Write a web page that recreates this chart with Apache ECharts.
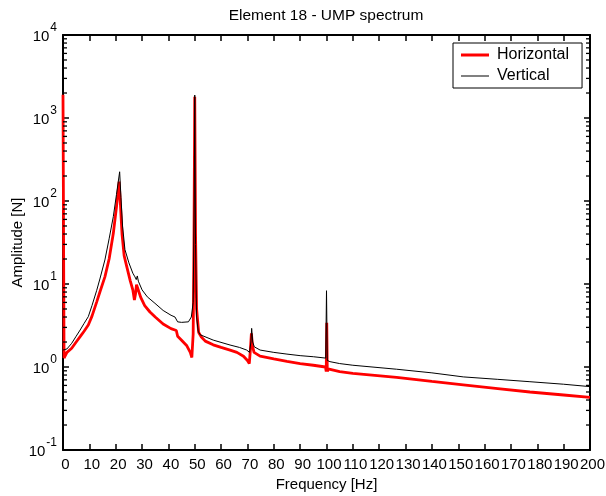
<!DOCTYPE html>
<html>
<head>
<meta charset="utf-8">
<script src="https://cdn.jsdelivr.net/npm/echarts@6/dist/echarts.min.js"></script>
<style>
  html, body { margin: 0; padding: 0; background: #fff; }
  #chart { width: 606px; height: 496px; }
</style>
</head>
<body>
<div id="chart"></div>
<script>
// Horizontal component (red)
var freqH = [0, 0.4, 1.5, 3.3, 5, 6.5, 8, 9.6, 11, 12.8, 14, 15.9, 17.5, 19.1, 20.3, 21.3, 21.8, 22.4, 23.2, 24.2, 25.5, 26.5, 27.1, 27.5, 27.9, 28.5, 29.5, 31, 33, 35, 38, 41, 43, 43.5, 45, 47, 48.3, 48.9, 49.4, 49.7, 50.0, 50.3, 50.7, 51.5, 52.5, 54, 57, 60, 63.4, 66, 68.5, 70, 70.7, 71.1, 71.5, 71.9, 72.5, 74.8, 80, 85, 90, 95, 99.6, 99.9, 100.1, 100.3, 100.6, 105, 110, 126.6, 140, 151.9, 165, 177.2, 190, 200];
var ampH = [1900, 1.28, 1.5, 1.68, 2.0, 2.32, 2.7, 3.2, 4.1, 6.1, 8.0, 12.2, 20, 40.8, 85, 171, 90, 40, 22, 16.2, 11, 8.5, 6.4, 7.5, 9.8, 8.6, 6.9, 5.5, 4.6, 4.0, 3.3, 2.9, 2.75, 2.35, 2.1, 1.8, 1.5, 1.3, 2.5, 30, 1800, 40, 5, 2.6, 2.3, 2.05, 1.85, 1.72, 1.6, 1.5, 1.35, 1.2, 1.1, 1.6, 2.55, 1.8, 1.5, 1.35, 1.25, 1.17, 1.1, 1.05, 1.0, 0.88, 3.4, 0.88, 0.95, 0.88, 0.84, 0.75, 0.67, 0.61, 0.55, 0.50, 0.46, 0.43];

// Vertical component (black)
var freqV = [0, 0.5, 1.5, 3.3, 5, 6.5, 8, 9.6, 11, 12.8, 14, 15.9, 17.5, 19.1, 20.3, 21.5, 22.0, 22.6, 23.5, 25, 26.5, 27.3, 27.8, 28.2, 28.6, 30, 32, 34.9, 38, 41, 42.5, 43.5, 45, 47.6, 48.7, 49.4, 49.8, 50.0, 50.3, 50.7, 51.3, 52, 57, 63.4, 67, 69.7, 70.8, 71.3, 71.6, 72, 72.6, 74.8, 80, 85, 90, 95, 99.7, 100.0, 100.3, 101.3, 105, 110, 126.6, 140, 151.9, 165, 177.2, 190, 200];
var ampV = [1.6, 1.55, 1.65, 1.93, 2.35, 2.79, 3.35, 4.04, 5.5, 8.4, 11.5, 19.5, 35, 65, 120, 225, 110, 50, 26, 18, 13.5, 12.2, 11.3, 12.5, 10.8, 8.5, 7, 5.85, 4.8, 4.2, 4.0, 3.5, 3.45, 3.5, 4.0, 6, 100, 1890, 30, 4, 2.7, 2.45, 2.11, 1.84, 1.72, 1.6, 1.5, 2.0, 2.92, 2.0, 1.75, 1.6, 1.5, 1.43, 1.37, 1.33, 1.28, 8.3, 1.2, 1.16, 1.1, 1.05, 0.94, 0.85, 0.76, 0.71, 0.665, 0.62, 0.58];

var xTicks = [0, 10, 20, 30, 40, 50, 60, 70, 80, 90, 100, 110, 120, 130, 140, 150, 160, 170, 180, 190, 200];
var decades = [0.1, 1, 10, 100, 1000, 10000];
var minorSteps = [2, 3, 4, 5, 6, 7, 8, 9];

var minorVals = [];
decades.slice(0, -1).forEach(function (d) {
  minorSteps.forEach(function (m) { minorVals.push([0, d * m]); });
});

function zip(f, a) {
  return f.map(function (v, i) { return [v, a[i]]; });
}

var chart = echarts.init(document.getElementById('chart'));
var font = 'Liberation Sans, Arial, sans-serif';

var baseX = {
  type: 'value', min: xTicks[0], max: xTicks[xTicks.length - 1], interval: 10,
  axisLine: { show: true, onZero: false, lineStyle: { color: '#000', width: 2 } },
  axisTick: { show: true, inside: true, length: 6, lineStyle: { color: '#000', width: 1.5 } },
  splitLine: { show: false }
};
var baseY = {
  type: 'log', logBase: 10, min: decades[0], max: decades[decades.length - 1],
  axisLine: { show: true, onZero: false, lineStyle: { color: '#000', width: 2 } },
  axisTick: { show: true, inside: true, length: 6, lineStyle: { color: '#000', width: 1.5 } },
  splitLine: { show: false }
};

var option = {
  animation: false,
  backgroundColor: '#fff',
  title: {
    text: 'Element 18 - UMP spectrum',
    left: 326, top: 8, textAlign: 'center', padding: 0,
    textStyle: { fontFamily: font, fontSize: 15.5, fontWeight: 'normal', color: '#000' }
  },
  grid: { left: 63, right: 16, top: 35, bottom: 46, outerBoundsMode: 'none', containLabel: false },
  legend: {
    orient: 'vertical', left: 453, top: 43,
    data: [
      { name: 'Horizontal', icon: 'path://M0,0H28V3H0Z' },
      { name: 'Vertical', icon: 'path://M0,0H28V1H0Z' }
    ],
    backgroundColor: '#fff', borderColor: '#000', borderWidth: 1,
    padding: [4, 13, 4, 8], itemWidth: 28, itemHeight: 14, itemGap: 5,
    textStyle: { fontFamily: font, fontSize: 16, color: '#000', padding: [0, 0, 0, 3] }
  },
  xAxis: [
    Object.assign({}, baseX, {
      position: 'bottom',
      name: 'Frequency [Hz]', nameLocation: 'middle', nameGap: 27, nameMoveOverlap: false,
      nameTextStyle: { fontFamily: font, fontSize: 15, color: '#000' },
      axisLabel: { fontFamily: font, fontSize: 15, color: '#000', margin: 7, padding: [0, 0, 0, 5] }
    }),
    Object.assign({}, baseX, { position: 'top', axisLabel: { show: false } })
  ],
  yAxis: [
    Object.assign({}, baseY, {
      position: 'left',
      name: 'Amplitude [N]', nameLocation: 'middle', nameGap: 38, nameMoveOverlap: false,
      nameTextStyle: { fontFamily: font, fontSize: 15, color: '#000' },
      axisLabel: {
        margin: 6, color: '#000',
        formatter: function (v) {
          var e = Math.round(Math.log10(v));
          return '{b|10}{e|' + e + '}';
        },
        rich: {
          b: { fontFamily: font, fontSize: 15, color: '#000', lineHeight: 15, padding: [4, 0, 0, 0] },
          e: { fontFamily: font, fontSize: 12, color: '#000', lineHeight: 12, padding: [0, 0, 14, 1] }
        }
      }
    }),
    Object.assign({}, baseY, { position: 'right', axisLabel: { show: false } })
  ],
  series: [
    {
      name: 'Horizontal', type: 'line', data: zip(freqH, ampH),
      showSymbol: false, symbol: 'none', z: 2,
      lineStyle: { color: '#ff0000', width: 2.8 }, itemStyle: { color: '#ff0000' }
    },
    {
      name: 'Vertical', type: 'line', data: zip(freqV, ampV),
      showSymbol: false, symbol: 'none', z: 3,
      lineStyle: { color: '#000', width: 1 }, itemStyle: { color: '#000' }
    },
    {
      // log minor ticks on left and right frame
      type: 'custom', silent: true, data: minorVals, z: 5, clip: false,
      renderItem: function (params, api) {
        var l = api.coord([xTicks[0], api.value(1)]);
        var r = api.coord([xTicks[xTicks.length - 1], api.value(1)]);
        var st = { stroke: '#000', lineWidth: 1.3 };
        return {
          type: 'group',
          children: [
            { type: 'line', shape: { x1: l[0], y1: l[1], x2: l[0] + 4, y2: l[1] }, style: st },
            { type: 'line', shape: { x1: r[0], y1: r[1], x2: r[0] - 4, y2: r[1] }, style: st }
          ]
        };
      }
    }
  ]
};

chart.setOption(option);
</script>
</body>
</html>
